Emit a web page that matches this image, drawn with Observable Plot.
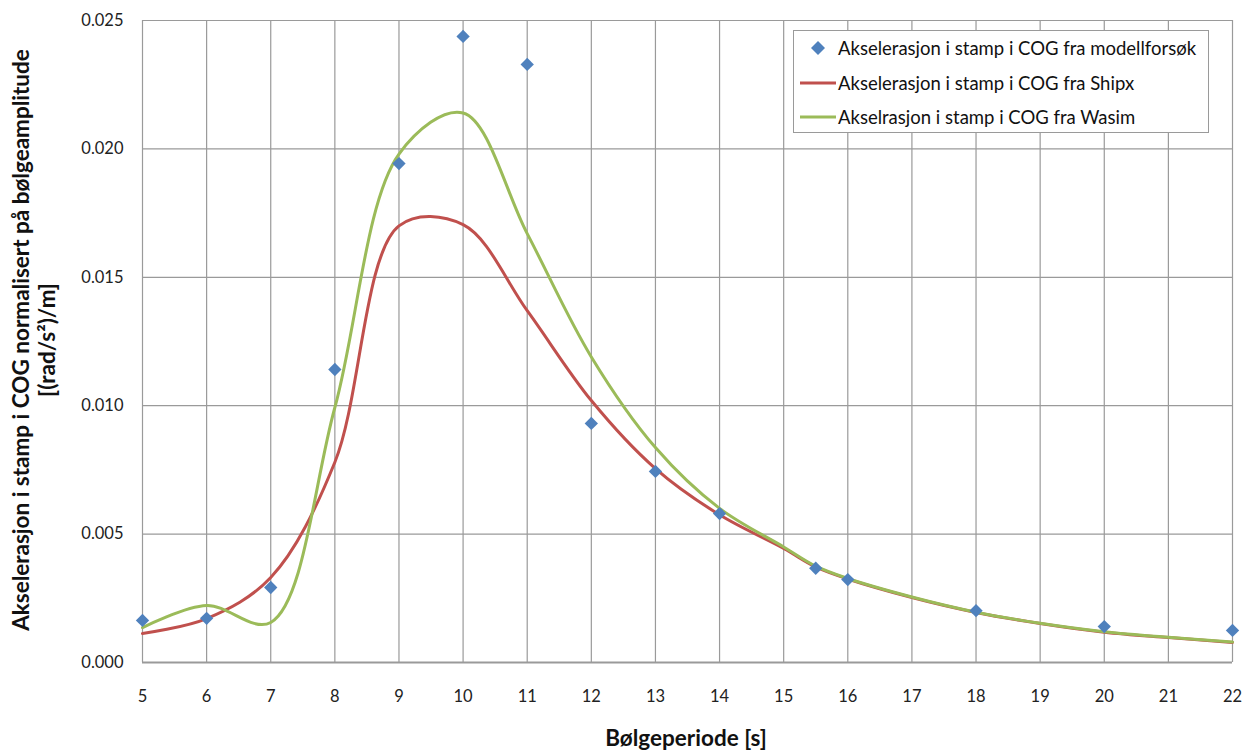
<!DOCTYPE html>
<html>
<head>
<meta charset="utf-8">
<script src="https://cdn.jsdelivr.net/npm/d3@7"></script>
<script src="https://cdn.jsdelivr.net/npm/@observablehq/plot@0.6"></script>
<style>
  body { margin: 0; background: #fff; font-family: Lato, "Open Sans", sans-serif; }
  #wrap { position: relative; width: 1258px; height: 753px; }
  #legend { position: absolute; left: 793px; top: 30px; width: 416px; height: 103px; border: 1px solid #9a9a9a; background: #fff; box-sizing: border-box; }
  .li { position: absolute; left: 0; height: 34px; display: flex; align-items: center; font-size: 18.5px; color: #111; white-space: nowrap; }
  .li svg { margin-right: 0px; }
  #ylab { position: absolute; left: 34px; top: 340px; transform: translate(-50%, -50%) rotate(-90deg); font-weight: bold; font-size: 22.5px; text-align: center; white-space: nowrap; line-height: 26px; color: #111; }
  #xlab { position: absolute; left: 686px; top: 737px; transform: translate(-50%, -50%); font-weight: bold; font-size: 22.5px; color: #111; white-space: nowrap; }
</style>
</head>
<body>
<div id="wrap">
  <div id="chart"></div>
  <div id="legend"></div>
  <div id="ylab"></div>
  <div id="xlab"></div>
</div>
<script>
// Model test points (Bølgeperiode [s], value)
const modelPeriods = [5, 6, 7, 8, 9, 10, 11, 12, 13, 14, 15.5, 16, 18, 20, 22];
const modelValues = [0.00164, 0.00172, 0.00292, 0.01141, 0.01943, 0.02438, 0.02329, 0.00931, 0.00744, 0.00580, 0.00367, 0.00323, 0.00202, 0.00140, 0.00125];

// Curves
const curvePeriods = [5, 6, 7, 8, 9, 10, 11, 12, 13, 14, 15, 15.5, 16, 17, 18, 19, 20, 21, 22];
const shipxValues = [0.00113, 0.00171, 0.00331, 0.00780, 0.01700, 0.01705, 0.01370, 0.01020, 0.00755, 0.00575, 0.00444, 0.00372, 0.00325, 0.00253, 0.00195, 0.00152, 0.00118, 0.00097, 0.00078];
const wasimValues = [0.00136, 0.00222, 0.00156, 0.00993, 0.01980, 0.02140, 0.01670, 0.01190, 0.00837, 0.00600, 0.00450, 0.00375, 0.00327, 0.00255, 0.00196, 0.00153, 0.00120, 0.00098, 0.00080];

const xTicks = [5, 6, 7, 8, 9, 10, 11, 12, 13, 14, 15, 16, 17, 18, 19, 20, 21, 22];
const yTicks = [0, 0.005, 0.010, 0.015, 0.020, 0.025];

const seriesNames = ["Akselerasjon i stamp i COG fra modellforsøk", "Akselerasjon i stamp i COG fra Shipx", "Akselrasjon i stamp i COG fra Wasim"];
const colors = ["#4F81BD", "#C0504D", "#9BBB59"];
const xTitle = "Bølgeperiode [s]";
const yTitle1 = "Akselerasjon i stamp i COG normalisert på bølgeamplitude";
const yTitle2 = "[(rad/s²)/m]";

const model = modelPeriods.map((p, i) => ({p, v: modelValues[i]}));
const shipx = curvePeriods.map((p, i) => ({p, v: shipxValues[i]}));
const wasim = curvePeriods.map((p, i) => ({p, v: wasimValues[i]}));

const chart = Plot.plot({
  width: 1258,
  height: 753,
  marginLeft: 142,
  marginRight: 26,
  marginTop: 20,
  marginBottom: 91,
  style: { fontFamily: "Lato, 'Open Sans', sans-serif", fontSize: "16.5px", color: "#222", background: "#fff" },
  x: { domain: [5, 22], ticks: xTicks, tickSize: 0, tickPadding: 28, label: null },
  y: { domain: [0, 0.025], ticks: yTicks, tickSize: 0, tickPadding: 19, tickFormat: d3.format(".3f"), label: null },
  marks: [
    Plot.gridX(xTicks, { stroke: "#9a9a9a", strokeOpacity: 1, strokeWidth: 1.2 }),
    Plot.gridY(yTicks, { stroke: "#9a9a9a", strokeOpacity: 1, strokeWidth: 1.2 }),
    Plot.ruleY([0], { stroke: "#9a9a9a", strokeWidth: 2 }),
    Plot.axisX(xTicks, { tickSize: 0, tickPadding: 28, fontSize: 16.5, label: null }),
    Plot.axisY(yTicks, { tickSize: 0, tickPadding: 19, fontSize: 16.5, tickFormat: d3.format(".3f"), label: null }),
    Plot.line(shipx, { x: "p", y: "v", stroke: colors[1], strokeWidth: 3, curve: "catmull-rom" }),
    Plot.line(wasim, { x: "p", y: "v", stroke: colors[2], strokeWidth: 3, curve: "catmull-rom" }),
    Plot.dot(model, { x: "p", y: "v", symbol: "diamond2", r: 6, fill: colors[0], stroke: "none" })
  ]
});
document.getElementById("chart").appendChild(chart);

// Legend
const legend = document.getElementById("legend");
seriesNames.forEach((name, i) => {
  const row = document.createElement("div");
  row.className = "li";
  row.style.top = (i * 34.5 + 0) + "px";
  const sym = i === 0
    ? `<svg width="44" height="20"><path d="M24,3 L31,10 L24,17 L17,10 Z" fill="${colors[0]}"/></svg>`
    : `<svg width="44" height="20"><line x1="6" x2="42" y1="10" y2="10" stroke="${colors[i]}" stroke-width="3"/></svg>`;
  row.innerHTML = sym + "<span>" + name + "</span>";
  legend.appendChild(row);
});
document.getElementById("ylab").innerHTML = yTitle1 + "<br>" + yTitle2;
document.getElementById("xlab").textContent = xTitle;
</script>
</body>
</html>
